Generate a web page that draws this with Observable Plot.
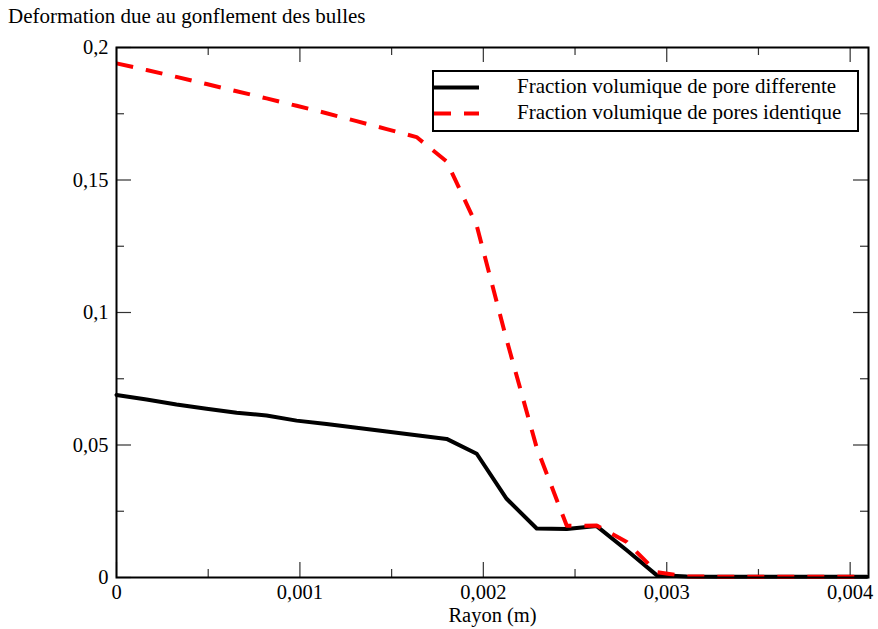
<!DOCTYPE html>
<html><head><meta charset="utf-8">
<script src="https://cdn.jsdelivr.net/npm/d3@7"></script>
<script src="https://cdn.jsdelivr.net/npm/@observablehq/plot@0.6"></script>
<style>
body{margin:0;background:#fff;}
#wrap{position:relative;width:878px;height:629px;font-family:"Liberation Serif","Times New Roman",serif;color:#000;}
#wrap svg{position:absolute;left:0;top:0;}
#title{position:absolute;left:8px;top:6px;font-size:21px;line-height:21px;white-space:nowrap;}
#legend{position:absolute;left:432px;top:70px;width:427px;height:62px;border:2px solid #000;box-sizing:border-box;background:#fff;}
.row{position:absolute;left:0;height:26px;width:420px;font-size:21px;line-height:26px;white-space:nowrap;}
.row svg{position:absolute;left:15px;top:0;}
.row span{position:absolute;left:83px;top:0;}
</style></head>
<body><div id="wrap"></div>
<script>
// ---- data ----
const titleText = "Deformation due au gonflement des bulles";
const xLabel = "Rayon (m)";
const seriesNames = ["Fraction volumique de pore differente", "Fraction volumique de pores identique"];
const seriesColors = ["#000000", "#ff0000"];
const rayon = [0, 0.000164, 0.000327, 0.000491, 0.000655, 0.000818, 0.000982, 0.001145, 0.001309,
  0.001473, 0.001636, 0.0018, 0.001964, 0.002127, 0.002291, 0.002455, 0.002618, 0.002782,
  0.002945, 0.003109, 0.003273, 0.003436, 0.0036, 0.003764, 0.003927, 0.004091];
const poreDifferente = [0.0689, 0.0672, 0.0653, 0.0637, 0.0622, 0.0611, 0.0592, 0.0579, 0.0565,
  0.0551, 0.0537, 0.0523, 0.0467, 0.0297, 0.0185, 0.0183, 0.0194, 0.0103,
  0.0009, 0.0004, 0.0003, 0.0003, 0.0003, 0.0003, 0.0003, 0.0003];
const poresIdentique = [0.194, 0.1915, 0.1889, 0.1862, 0.1835, 0.1808, 0.178, 0.1752, 0.1722,
  0.1692, 0.1662, 0.157, 0.1328, 0.0897, 0.049, 0.0195, 0.0196, 0.0134,
  0.002, 0.0004, 0.0003, 0.0003, 0.0003, 0.0003, 0.0003, 0.0003];
const xMajor = [0, 0.001, 0.002, 0.003, 0.004];
const xMinor = [0.0005, 0.0015, 0.0025, 0.0035];
const yMajor = [0, 0.05, 0.1, 0.15, 0.2];
const yMinor = [0.025, 0.075, 0.125, 0.175];
const xDomain = [0, 0.0041];
const yDomain = [0, 0.2];

// ---- layout ----
const W = 878, H = 629, mt = 47, mb = 52, ml = 116, mr = 10;
const plotW = W - ml - mr, plotH = H - mt - mb;
const majorLen = 15, minorLen = 8;
const fmt = d => String(d).replace(".", ",");
const rows = rayon.map((x, i) => ({x, a: poreDifferente[i], b: poresIdentique[i]}));
const tk = {stroke: "#333", strokeWidth: 1.2};

const chart = Plot.plot({
  width: W, height: H,
  marginTop: mt, marginBottom: mb, marginLeft: ml, marginRight: mr,
  style: {fontFamily: "'Liberation Serif','Times New Roman',serif", fontSize: "20.5px", background: "transparent", color: "#000", overflow: "visible"},
  x: {domain: xDomain},
  y: {domain: yDomain},
  marks: [
    Plot.tickX(xMajor, {x: d => d, insetTop: plotH - majorLen, ...tk}),
    Plot.tickX(xMajor, {x: d => d, insetBottom: plotH - majorLen, ...tk}),
    Plot.tickX(xMinor, {x: d => d, insetTop: plotH - minorLen, ...tk}),
    Plot.tickX(xMinor, {x: d => d, insetBottom: plotH - minorLen, ...tk}),
    Plot.tickY(yMajor, {y: d => d, insetRight: plotW - majorLen, ...tk}),
    Plot.tickY(yMajor, {y: d => d, insetLeft: plotW - majorLen, ...tk}),
    Plot.tickY(yMinor, {y: d => d, insetRight: plotW - minorLen, ...tk}),
    Plot.tickY(yMinor, {y: d => d, insetLeft: plotW - minorLen, ...tk}),
    Plot.line(rows, {x: "x", y: "a", stroke: seriesColors[0], strokeWidth: 4}),
    Plot.line(rows, {x: "x", y: "b", stroke: seriesColors[1], strokeWidth: 4, strokeDasharray: "17,13", strokeLinecap: "butt"}),
    Plot.frame({stroke: "#000", strokeWidth: 2}),
    Plot.axisX({ticks: xMajor, tickSize: 0, tickPadding: 7, tickFormat: fmt, label: xLabel, labelAnchor: "center", labelOffset: 44, labelArrow: "none"}),
    Plot.axisY({ticks: yMajor, tickSize: 0, tickPadding: 8, tickFormat: fmt, label: null})
  ]
});

const wrap = document.getElementById("wrap");
wrap.appendChild(chart);

const title = document.createElement("div");
title.id = "title";
title.textContent = titleText;
wrap.appendChild(title);

const legend = document.createElement("div");
legend.id = "legend";
seriesNames.forEach((name, i) => {
  const row = document.createElement("div");
  row.className = "row";
  row.style.top = (1 + i * 26) + "px";
  const dash = i === 1 ? ' stroke-dasharray="17,13"' : '';
  row.innerHTML = `<svg width="45" height="26"><line x1="0" x2="45" y1="14.5" y2="14.5" stroke="${seriesColors[i]}" stroke-width="4"${dash}/></svg>`;
  const s = document.createElement("span");
  s.textContent = name;
  row.appendChild(s);
  legend.appendChild(row);
});
wrap.appendChild(legend);
</script>
</body></html>
